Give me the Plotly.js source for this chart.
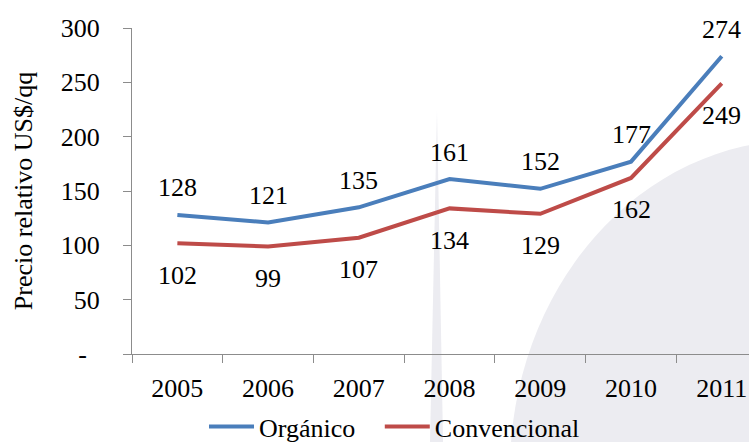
<!DOCTYPE html>
<html>
<head>
<meta charset="utf-8">
<script src="https://cdn.plot.ly/plotly-3.0.1.min.js"></script>
<style>
  html, body { margin: 0; padding: 0; background: #ffffff; overflow: hidden; }
  #chart { width: 749px; height: 442px; }
</style>
</head>
<body>
<div id="chart"></div>
<script>
// Precio relativo (US$/qq), café orgánico vs. convencional, 2005-2011
const years = ['2005', '2006', '2007', '2008', '2009', '2010', '2011'];
const organico = [128, 121, 135, 161, 152, 177, 274];
const convencional = [102, 99, 107, 134, 129, 162, 249];

const yTickVals = [0, 50, 100, 150, 200, 250, 300];
const yTickText = ['-\u00a0\u00a0', '50', '100', '150', '200', '250', '300'];

const FONT = 'Liberation Serif, Times New Roman, serif';
const BLUE = '#4a7ebb';
const RED = '#be4b48';
const AXIS = '#8c8c8c';
const EMBLEM = '#ececf1';

const traces = [
  {
    x: years, y: organico, name: 'Orgánico\u00a0\u00a0\u00a0', type: 'scatter', mode: 'lines',
    line: { color: BLUE, width: 4 }, hoverinfo: 'skip'
  },
  {
    x: years, y: convencional, name: 'Convencional', type: 'scatter', mode: 'lines',
    line: { color: RED, width: 4 }, hoverinfo: 'skip'
  }
];

// value labels: above the blue line, below the red line
// (category axis: positions are given as category indices)
const annotations = [];
years.forEach((yr, i) => {
  annotations.push({
    x: i, y: organico[i], xref: 'x', yref: 'y', text: String(organico[i]),
    showarrow: false, yshift: 27, font: { family: FONT, size: 26, color: '#000000' }
  });
  annotations.push({
    x: i, y: convencional[i], xref: 'x', yref: 'y', text: String(convencional[i]),
    showarrow: false, yshift: -32, font: { family: FONT, size: 26, color: '#000000' }
  });
});

// faint background emblem: large disc on the right and a thin vertical blade
const shapes = [
  {
    type: 'circle', xref: 'paper', yref: 'paper', layer: 'below',
    x0: (510 - 132) / 617, x1: (1090 - 132) / 617,
    y0: (354 - 800) / 326, y1: (354 - 140) / 326,
    fillcolor: EMBLEM, line: { width: 0 }
  },
  {
    type: 'path', xref: 'paper', yref: 'paper', layer: 'below',
    path: 'M 0.4943,0.7485 L 0.5041,-0.2699 L 0.4830,-0.2699 Z',
    fillcolor: EMBLEM, line: { width: 0 }
  }
];

const layout = {
  width: 749, height: 442,
  margin: { l: 132, r: 0, t: 28, b: 88 },
  paper_bgcolor: '#ffffff', plot_bgcolor: 'rgba(0,0,0,0)',
  font: { family: FONT, size: 26, color: '#000' },
  showlegend: true,
  legend: {
    orientation: 'h', xref: 'paper', x: 0.1167, xanchor: 'left',
    yref: 'container', y: 0.088, yanchor: 'top', itemwidth: 45,
    font: { family: FONT, size: 26, color: '#000' },
    bgcolor: 'rgba(0,0,0,0)', itemclick: false, itemdoubleclick: false
  },
  xaxis: {
    type: 'category', range: [-0.5, 6.3], automargin: false,
    showline: true, linecolor: AXIS, linewidth: 1,
    ticks: 'outside', tickson: 'boundaries', ticklen: 8, tickcolor: AXIS, tickwidth: 1,
    showgrid: false, zeroline: false, ticklabelstandoff: 11,
    tickfont: { family: FONT, size: 26, color: '#000' }
  },
  yaxis: {
    range: [0, 300], tickvals: yTickVals, ticktext: yTickText, automargin: false,
    showline: true, linecolor: AXIS, linewidth: 1,
    ticks: 'outside', ticklen: 8, tickcolor: AXIS, tickwidth: 1,
    showgrid: false, zeroline: false, ticklabelstandoff: 18,
    tickfont: { family: FONT, size: 26, color: '#000' },
    title: { text: 'Precio relativo US$/qq', font: { family: FONT, size: 26, color: '#000' }, standoff: 20 }
  },
  annotations: annotations,
  shapes: shapes
};

Plotly.newPlot('chart', traces, layout, { staticPlot: true, displayModeBar: false });
</script>
</body>
</html>
